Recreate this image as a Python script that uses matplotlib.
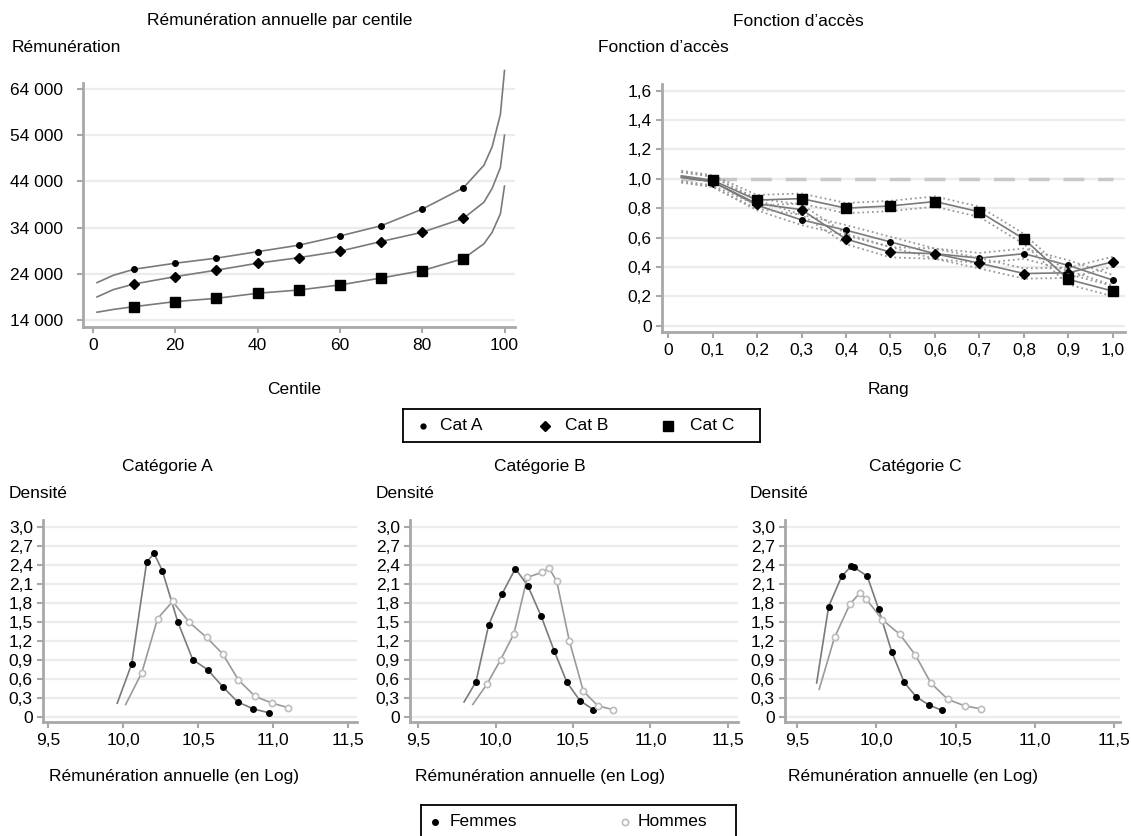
import numpy as np
import matplotlib.pyplot as plt

plt.rcParams['font.family'] = ['Liberation Sans', 'DejaVu Sans']
plt.rcParams['font.size'] = 12.5

W, H = 1131, 836
FS = 12.5

# --- Rémunération annuelle par centile (courbes)
centile_curve = [1, 5, 10, 20, 30, 40, 50, 60, 70, 80, 90, 95, 97, 99, 100]
cat_a_curve = [22100, 23700, 25000, 26300, 27400, 28800, 30200, 32200, 34400, 38000, 42600, 47500, 51500, 58500, 68000]
cat_b_curve = [19000, 20600, 21800, 23400, 24800, 26300, 27500, 28900, 31000, 33000, 36000, 39500, 42500, 47000, 54000]
cat_c_curve = [15700, 16300, 16900, 18000, 18700, 19800, 20500, 21600, 23100, 24700, 27300, 30500, 33000, 37000, 43000]
centile_marks = [10, 20, 30, 40, 50, 60, 70, 80, 90]

# --- Fonction d'accès
rang = [0.03, 0.1, 0.2, 0.3, 0.4, 0.5, 0.6, 0.7, 0.8, 0.9, 1.0]
acces_a = [1.01, 0.98, 0.82, 0.72, 0.65, 0.57, 0.49, 0.46, 0.49, 0.41, 0.31]
acces_b = [1.01, 0.98, 0.83, 0.79, 0.59, 0.50, 0.49, 0.425, 0.355, 0.36, 0.435]
acces_c = [1.02, 0.99, 0.855, 0.865, 0.80, 0.815, 0.845, 0.775, 0.59, 0.315, 0.235]
acces_band = 0.035

# --- Densités (x, y des courbes ; les marqueurs sont aux points listés)
fa_x = [9.96, 10.056, 10.156, 10.205, 10.26, 10.363, 10.463, 10.563, 10.667, 10.763, 10.867, 10.969]
fa_y = [0.21, 0.83, 2.44, 2.58, 2.31, 1.50, 0.90, 0.74, 0.46, 0.23, 0.12, 0.06]
ha_x = [10.016, 10.123, 10.229, 10.329, 10.44, 10.556, 10.663, 10.767, 10.878, 10.993, 11.1]
ha_y = [0.19, 0.69, 1.55, 1.82, 1.49, 1.25, 0.99, 0.58, 0.32, 0.21, 0.14]

fb_x = [9.797, 9.874, 9.956, 10.042, 10.128, 10.208, 10.294, 10.38, 10.461, 10.545, 10.631]
fb_y = [0.23, 0.55, 1.45, 1.94, 2.34, 2.07, 1.59, 1.03, 0.54, 0.25, 0.11]
hb_x = [9.853, 9.947, 10.033, 10.119, 10.205, 10.298, 10.345, 10.395, 10.476, 10.567, 10.66, 10.756]
hb_y = [0.19, 0.52, 0.90, 1.31, 2.20, 2.28, 2.35, 2.14, 1.20, 0.40, 0.17, 0.11]

fc_x = [9.622, 9.698, 9.781, 9.842, 9.859, 9.942, 10.014, 10.097, 10.176, 10.252, 10.334, 10.412]
fc_y = [0.53, 1.74, 2.22, 2.38, 2.36, 2.22, 1.70, 1.02, 0.54, 0.31, 0.18, 0.10]
hc_x = [9.638, 9.735, 9.833, 9.894, 9.935, 10.038, 10.148, 10.247, 10.344, 10.452, 10.557, 10.66]
hc_y = [0.43, 1.25, 1.78, 1.95, 1.86, 1.53, 1.30, 0.97, 0.53, 0.27, 0.17, 0.12]

GRID = '#ececec'
SPINE = '#a8a8a8'
LINE = '#7a7a7a'
LIGHT = '#bdbdbd'


def px_axes(fig, l, t, r, b):
    return fig.add_axes([l / W, 1 - b / H, (r - l) / W, (b - t) / H])


def style_axes(ax, ypad=3):
    for s in ['top', 'right']:
        ax.spines[s].set_visible(False)
    for s in ['left', 'bottom']:
        ax.spines[s].set_color(SPINE)
        ax.spines[s].set_linewidth(2)
    ax.tick_params(colors=SPINE, labelcolor='black', length=4.3, width=1.5, labelsize=FS)
    ax.tick_params(axis='x', pad=3.5)
    ax.tick_params(axis='y', pad=ypad)
    ax.grid(axis='y', color=GRID, lw=1.6)
    ax.set_axisbelow(True)


def comma(v, nd=1):
    if v == 0:
        return '0'
    return f'{v:.{nd}f}'.replace('.', ',')


def ftext(x, y, s, ha='center', **kw):
    fig.text(x / W, 1 - y / H, s, ha=ha, va='center', fontsize=FS, **kw)


fig = plt.figure(figsize=(W / 100, H / 100), dpi=100)

# ---------- Rémunération par centile
ax1 = px_axes(fig, 83, 83, 515, 327)
style_axes(ax1, ypad=10)
for yv, mk, ms in [(cat_a_curve, 'o', 4), (cat_b_curve, 'D', 5.5), (cat_c_curve, 's', 6.5)]:
    ax1.plot(centile_curve, yv, color=LINE, lw=1.2, clip_on=False)
    idx = [centile_curve.index(c) for c in centile_marks]
    ax1.plot(centile_marks, [yv[i] for i in idx], ls='none', marker=mk, ms=ms, color='black')
ax1.set_xlim(-2.4, 102.55)
ax1.set_ylim(12500, 65300)
ax1.set_xticks([0, 20, 40, 60, 80, 100])
yt = [14000, 24000, 34000, 44000, 54000, 64000]
ax1.set_yticks(yt)
ax1.set_yticklabels([f'{v // 1000} 000' for v in yt])

# ---------- Fonction d'accès
ax2 = px_axes(fig, 662, 84, 1125, 332)
style_axes(ax2)
ax2.plot([0.03, 1.0], [1.0, 1.0], color='#c8c8c8', lw=2.5, dashes=(6, 4))
for yv, mk, ms in [(acces_a, 'o', 4), (acces_b, 'D', 5), (acces_c, 's', 7.5)]:
    yv = np.array(yv)
    ax2.plot(rang, yv + acces_band, color='#9a9a9a', lw=1.3, ls=':')
    ax2.plot(rang, yv - acces_band, color='#9a9a9a', lw=1.3, ls=':')
    ax2.plot(rang, yv, color=LINE, lw=1.2)
    ax2.plot(rang[1:], yv[1:], ls='none', marker=mk, ms=ms, color='black')
ax2.set_xlim(-0.0135, 1.027)
ax2.set_ylim(-0.043, 1.645)
xt = [round(0.1 * i, 1) for i in range(11)]
ax2.set_xticks(xt)
ax2.set_xticklabels([comma(v) for v in xt])
yt2 = [0, 0.2, 0.4, 0.6, 0.8, 1.0, 1.2, 1.4, 1.6]
ax2.set_yticks(yt2)
ax2.set_yticklabels([comma(v) for v in yt2])

# ---------- Densités
dens = [
    ((43, 357), (9.465, 11.558), fa_x, fa_y, ha_x, ha_y),
    ((410, 738), (9.448, 11.565), fb_x, fb_y, hb_x, hb_y),
    ((785, 1120), (9.422, 11.54), fc_x, fc_y, hc_x, hc_y),
]
for (l, r), xl, fx, fy, hx, hy in dens:
    ax = px_axes(fig, l, 520, r, 722)
    style_axes(ax)
    ax.plot(fx, fy, color=LINE, lw=1.2)
    ax.plot(hx, hy, color='#9a9a9a', lw=1.2)
    ax.plot(fx[1:], fy[1:], ls='none', marker='o', ms=4, color='black')
    ax.plot(hx[1:], hy[1:], ls='none', marker='o', ms=4.5, mfc='white', mec=LIGHT, mew=1.2)
    ax.set_xlim(*xl)
    ax.set_ylim(-0.087, 3.109)
    xt = [9.5, 10.0, 10.5, 11.0, 11.5]
    ax.set_xticks(xt)
    ax.set_xticklabels([comma(v) for v in xt])
    yt3 = [0, 0.3, 0.6, 0.9, 1.2, 1.5, 1.8, 2.1, 2.4, 2.7, 3.0]
    ax.set_yticks(yt3)
    ax.set_yticklabels([comma(v) for v in yt3])

# ---------- Textes
ftext(280, 21, 'Rémunération annuelle par centile')
ftext(12, 48, 'Rémunération', ha='left')
ftext(798, 21, 'Fonction d’accès')
ftext(598, 48, 'Fonction d’accès', ha='left')
ftext(294, 390, 'Centile')
ftext(888, 390, 'Rang')
for cx, lx, name in [(167, 9, 'A'), (540, 376, 'B'), (915, 750, 'C')]:
    ftext(cx, 466, f'Catégorie {name}')
    ftext(lx, 493, 'Densité', ha='left')
for cx in [174, 540, 913]:
    ftext(cx, 776, 'Rémunération annuelle (en Log)')

# ---------- Légendes
lg1 = px_axes(fig, 403, 409, 760, 442)
lg1.set_xlim(403, 760)
lg1.set_ylim(442, 409)
lg1.set_xticks([])
lg1.set_yticks([])
for s in lg1.spines.values():
    s.set_linewidth(1.3)
for mx, tx, mk, ms, lab in [(423, 440, 'o', 3.5, 'Cat A'), (545, 565, 'D', 5.5, 'Cat B'), (668, 690, 's', 7, 'Cat C')]:
    lg1.plot([mx], [425.5], marker=mk, ms=ms, color='black')
    lg1.text(tx, 425.5, lab, va='center', ha='left', fontsize=FS)

lg2 = px_axes(fig, 421, 805, 736, 850)
lg2.set_xlim(421, 736)
lg2.set_ylim(850, 805)
lg2.set_xticks([])
lg2.set_yticks([])
for s in lg2.spines.values():
    s.set_linewidth(1.3)
lg2.plot([435], [822], marker='o', ms=4, color='black')
lg2.text(450, 822, 'Femmes', va='center', ha='left', fontsize=FS)
lg2.plot([625], [822], marker='o', ms=4.5, mfc='white', mec=LIGHT, mew=1.2)
lg2.text(638, 822, 'Hommes', va='center', ha='left', fontsize=FS)

fig.savefig('out.png', dpi=100)
